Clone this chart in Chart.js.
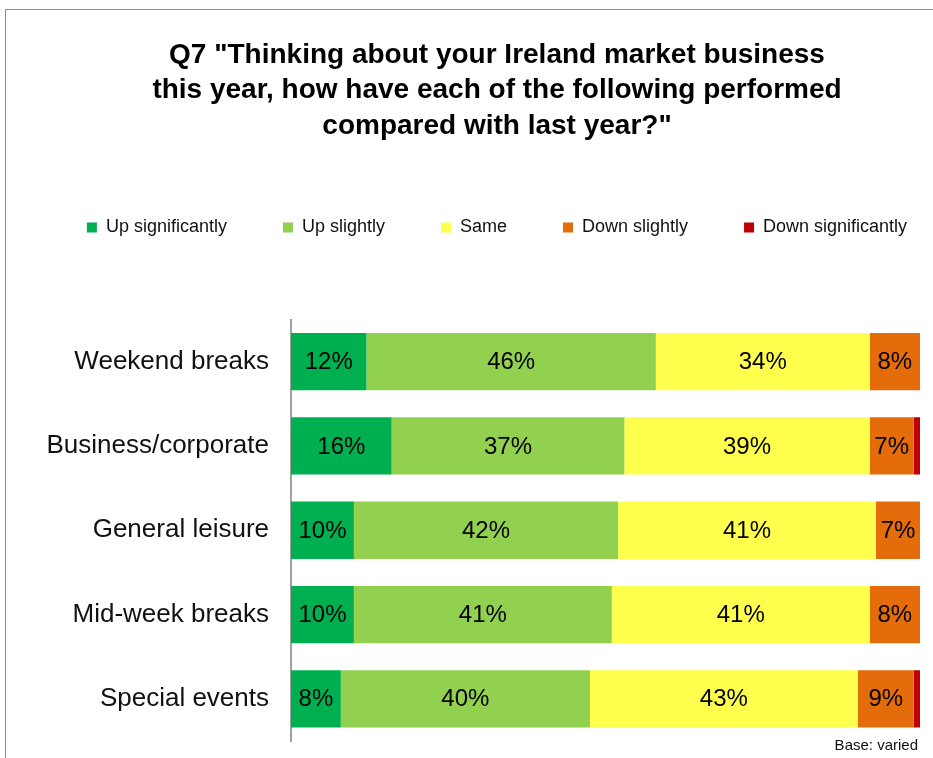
<!DOCTYPE html>
<html>
<head>
<meta charset="utf-8">
<script src="https://cdn.jsdelivr.net/npm/chart.js@4.4.1/dist/chart.umd.min.js"></script>
<style>
  html, body { margin: 0; padding: 0; background: #fff; }
  body { width: 933px; height: 758px; overflow: hidden; position: relative; }
  .frame { position: absolute; left: 5px; top: 9px; width: 1200px; height: 800px;
           border-top: 1px solid #8c8c8c; border-left: 1px solid #8c8c8c; }
  .wrap { position: absolute; left: 0; top: 0; width: 994px; height: 758px; }
</style>
</head>
<body>
<div class="frame"></div>
<div class="wrap"><canvas id="chart"></canvas></div>
<script>
const categories = ['Weekend breaks', 'Business/corporate', 'General leisure', 'Mid-week breaks', 'Special events'];
const seriesNames = ['Up significantly', 'Up slightly', 'Same', 'Down slightly', 'Down significantly'];
const upSignificantly = [12, 16, 10, 10, 8];
const upSlightly = [46, 37, 42, 41, 40];
const same = [34, 39, 41, 41, 43];
const downSlightly = [8, 7, 7, 8, 9];
const downSignificantly = [0, 1, 0, 0, 1];
const colors = ['#00b050', '#92d050', '#ffff4d', '#e46c0a', '#c00000'];

const FONT = '"Liberation Sans", Arial, sans-serif';
const series = [upSignificantly, upSlightly, same, downSlightly, downSignificantly];

// each bar is a 100% stack, so scale every row by its own total
const rowTotals = categories.map((c, i) => series.reduce((s, arr) => s + arr[i], 0));

// percentage labels in the middle of each segment
const segmentLabels = {
    id: 'segmentLabels',
    afterDatasetsDraw(chart) {
        const ctx = chart.ctx;
        ctx.save();
        ctx.font = '24px ' + FONT;
        ctx.fillStyle = '#000';
        ctx.textAlign = 'center';
        ctx.textBaseline = 'middle';
        chart.data.datasets.forEach((ds, di) => {
            const meta = chart.getDatasetMeta(di);
            meta.data.forEach((bar, i) => {
                const v = series[di][i];
                if (v < 2) return;
                ctx.fillText(v + '%', (bar.x + bar.base) / 2, bar.y + 1);
            });
        });
        // base note under the bars
        ctx.font = '15px ' + FONT;
        ctx.fillStyle = '#111';
        ctx.textAlign = 'right';
        ctx.fillText('Base: varied', chart.chartArea.right - 2, 746);
        ctx.restore();
    }
};

new Chart(document.getElementById('chart'), {
    type: 'bar',
    data: {
        labels: categories,
        datasets: series.map((arr, k) => ({
            label: seriesNames[k],
            data: arr.map((v, i) => v / rowTotals[i] * 100),
            backgroundColor: colors[k],
            borderWidth: 0,
            barPercentage: 0.68,
            categoryPercentage: 1
        }))
    },
    options: {
        indexAxis: 'y',
        responsive: true,
        maintainAspectRatio: false,
        animation: false,
        layout: { padding: { left: 0, right: 0, top: 0, bottom: 17 } },
        scales: {
            x: {
                stacked: true,
                min: 0,
                max: 100,
                position: 'top',
                grid: { display: false },
                border: { display: false },
                ticks: { display: false },
                afterFit: (s) => { s.height = 73; }
            },
            y: {
                stacked: true,
                grid: { display: false, drawTicks: false },
                border: { display: true, color: '#a0a0a0', width: 2 },
                ticks: { color: '#111', padding: 22, font: { family: FONT, size: 26 } },
                afterFit: (s) => {
                    s.width = 291;
                    s.paddingTop = 0;
                    s.paddingBottom = 0;
                }
            },
            // empty strip on the right so the title and legend centre over the full box
            yRight: {
                axis: 'y',
                type: 'linear',
                position: 'right',
                grid: { display: false, drawTicks: false },
                border: { display: false },
                ticks: { display: false },
                afterFit: (s) => {
                    s.width = 74;
                    s.paddingTop = 0;
                    s.paddingBottom = 0;
                }
            }
        },
        plugins: {
            title: {
                display: true,
                text: ['Q7 "Thinking about your Ireland market business',
                       'this year, how have each of the following performed',
                       'compared with last year?"'],
                color: '#000',
                font: { family: FONT, size: 28, weight: 'bold', lineHeight: 1.28 },
                padding: { top: 37, bottom: 18 }
            },
            legend: {
                position: 'top',
                labels: {
                    boxWidth: 10,
                    boxHeight: 10,
                    padding: 56,
                    color: '#111',
                    font: { family: FONT, size: 18 }
                }
            },
            tooltip: { enabled: false }
        }
    },
    plugins: [segmentLabels]
});
</script>
</body>
</html>
